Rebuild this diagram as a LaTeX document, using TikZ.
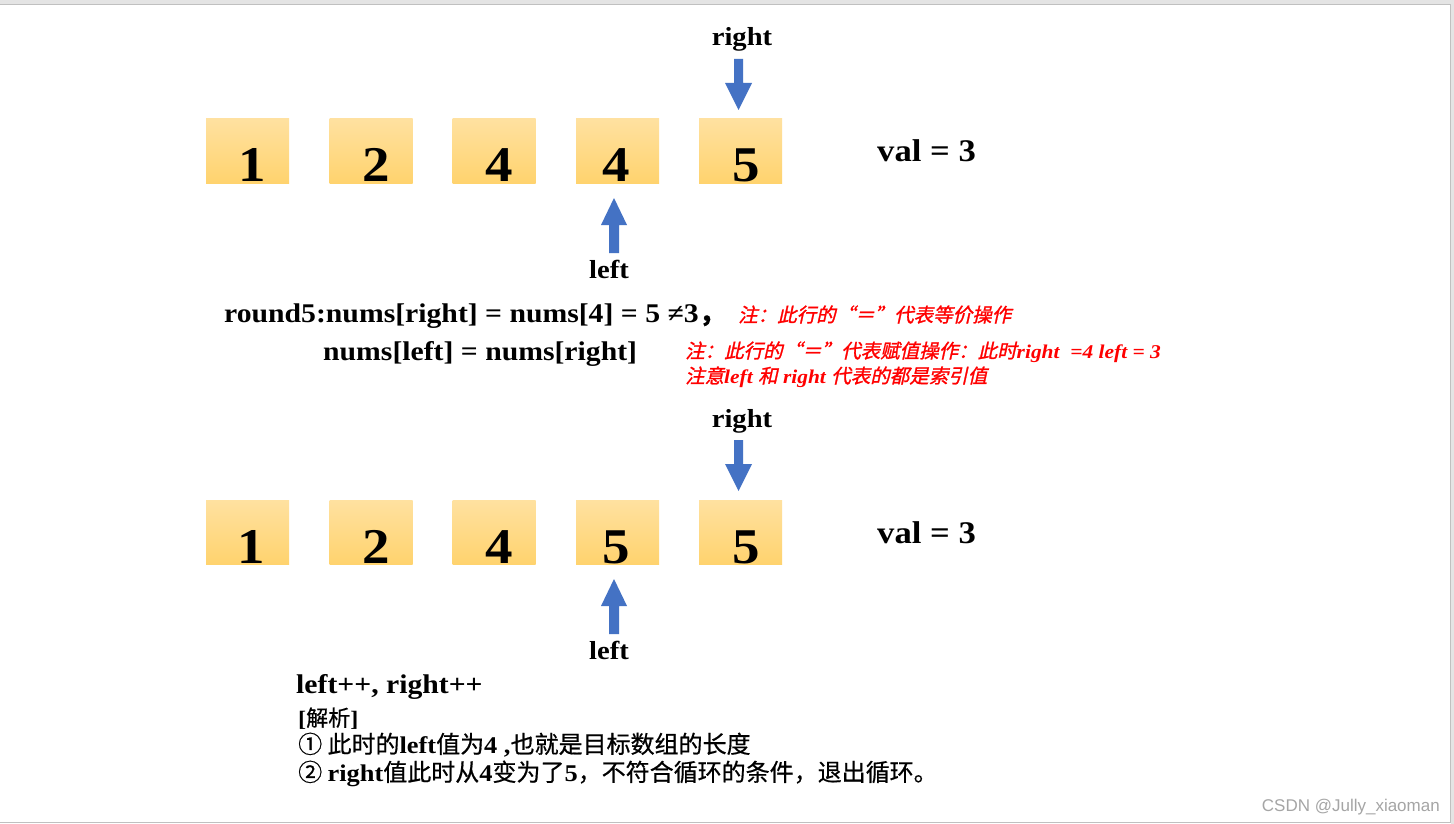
\documentclass[tikz,border=0pt]{standalone}
\usepackage{fontspec}
\setmainfont{Liberation Serif}[FakeStretch=1.1]
\newfontfamily\cjk{Noto Sans CJK SC}[FakeBold=0.6]
\newfontfamily\cjkit{Noto Sans CJK SC}[FakeSlant=0.22,FakeBold=1.2]
\newfontfamily\wmfont{Liberation Sans}
\newcommand\fsz[1]{\fontsize{#1}{#1}\selectfont}
\definecolor{arrowblue}{RGB}{68,114,196}
\definecolor{boxtop}{RGB}{255,225,160}
\definecolor{boxbot}{RGB}{255,211,110}
\definecolor{bandgray}{RGB}{228,228,228}
\definecolor{linegray}{RGB}{192,192,192}
\definecolor{notered}{RGB}{255,0,0}
\definecolor{wmgray}{RGB}{165,165,165}
\begin{document}
\begin{tikzpicture}[x=1pt,y=-1pt,
  numbox/.style={minimum width=83pt, minimum height=64pt, inner sep=0pt, top color=boxtop, bottom color=boxbot, draw=none},
  digit/.style={anchor=base, inner sep=0pt, font=\bfseries\fsz{50}},
  txt/.style={anchor=base west, inner sep=0pt},
  lbl/.style={anchor=base, inner sep=0pt, font=\bfseries\fsz{26}},
  rednote/.style={anchor=base west, inner sep=0pt, text=notered},
  pics/downarrow/.style={code={\fill[arrowblue] (-4.5,0) -- (4.5,0) -- (4.5,24) -- (13.5,24) -- (0,51) -- (-13.5,24) -- (-4.5,24) -- cycle;}},
  pics/uparrow/.style={code={\fill[arrowblue] (0,0) -- (13,27) -- (5,27) -- (5,55) -- (-5,55) -- (-5,27) -- (-13,27) -- cycle;}}
]
\useasboundingbox (0,0) rectangle (1454,824);
\fill[white] (0,0) rectangle (1454,824);
\fill[bandgray] (0,0) rectangle (1454,4);
\fill[bandgray] (1451,4) rectangle (1454,824);
\draw[linegray,line width=1pt] (0,4.5) -- (1450.5,4.5) -- (1450.5,822.5) -- (0,822.5);

% ---------- top row ----------
\foreach \i/\x in {1/247.5,2/371,3/494,4/617.5,5/740.5}{
  \node[numbox] (ta\i) at (\x,151) {};
  \node[numbox] (ba\i) at (\x,532) {};
}
\node[digit] (td1) at (252,182) {1};
\node[digit] (td2) at (376,182) {2};
\node[digit] (td3) at (499,182) {4};
\node[digit] (td4) at (616,182) {4};
\node[digit] (td5) at (746,182) {5};

\node[lbl] (tright) at (742,46) {right};
\pic at (738.5,59) {downarrow};
\pic at (614,198) {uparrow};
\node[lbl] (tleft) at (609,278) {left};
\node[txt, font=\bfseries\fsz{31.5}] (tval) at (877,162) {val = 3};

% ---------- explanation ----------
\node[txt, font=\bfseries\fsz{27}] (r5) at (224,322) {round5:nums[right] = nums[4] = 5 ≠3{\cjk ，}};
\node[txt, font=\bfseries\fsz{27}] (r5b) at (323,360) {nums[left] = nums[right]};
\node[rednote, font=\fsz{19.5}] (n1) at (738,322) {\cjkit 注：此行的“＝”代表等价操作};
\node[rednote, font=\fsz{19.5}] (n2) at (685,358) {{\cjkit 注：此行的“＝”代表赋值操作：此时}{\bfseries\itshape right\ \ =4 left = 3}};
\node[rednote, font=\fsz{19.5}] (n3) at (685,383) {{\cjkit 注意}{\bfseries\itshape left\ }{\cjkit 和}{\bfseries\itshape\ right\ }{\cjkit 代表的都是索引值}};

% ---------- bottom row ----------
\node[digit] (bd1) at (251,563) {1};
\node[digit] (bd2) at (376,563) {2};
\node[digit] (bd3) at (499,563) {4};
\node[digit] (bd4) at (616,563) {5};
\node[digit] (bd5) at (746,563) {5};

\node[lbl] (bright) at (742,427) {right};
\pic at (738.5,440) {downarrow};
\pic at (614,579) {uparrow};
\node[lbl] (bleft) at (609,659) {left};
\node[txt, font=\bfseries\fsz{31.5}] (bval) at (877,543) {val = 3};

\node[txt, font=\bfseries\fsz{27}] (inc) at (296,693) {left++, right++};
\node[txt, font=\fsz{22}] (jx) at (298,726) {\textbf{[}{\cjk 解析}\textbf{]}};
\node[txt, font=\fsz{24}] (p1) at (298,753) {{\cjk ① 此时的}\textbf{left}{\cjk 值为}\textbf{4 ,}{\cjk 也就是目标数组的长度}};
\node[txt, font=\fsz{24}] (p2) at (298,781) {{\cjk ② }\textbf{right}{\cjk 值此时从}\textbf{4}{\cjk 变为了}\textbf{5}{\cjk ，不符合循环的条件，退出循环。}};

\node[anchor=base east, inner sep=0pt, text=wmgray, font=\wmfont\fsz{17}] (wm) at (1440,811) {CSDN @Jully\_xiaoman};
\end{tikzpicture}
\end{document}
